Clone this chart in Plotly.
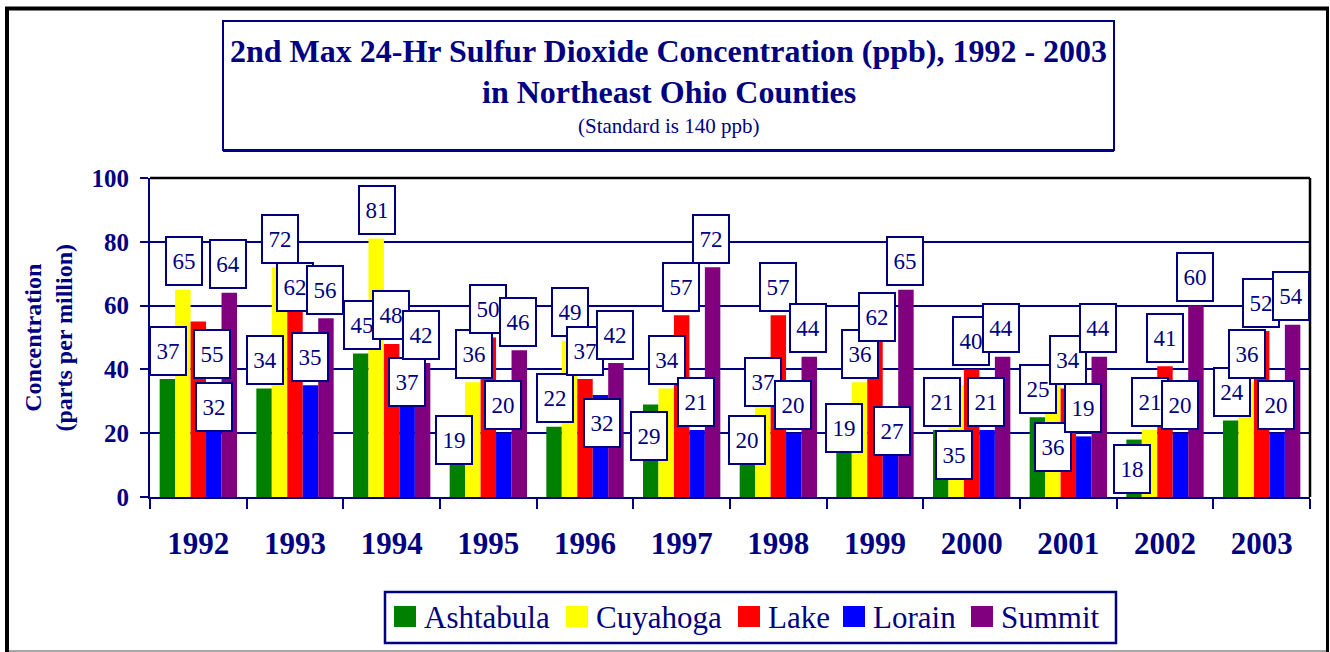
import plotly.graph_objects as go

# ---------------- data ----------------
years = ["1992", "1993", "1994", "1995", "1996", "1997",
         "1998", "1999", "2000", "2001", "2002", "2003"]
series_names = ["Ashtabula", "Cuyahoga", "Lake", "Lorain", "Summit"]
ashtabula = [37, 34, 45, 19, 22, 29, 20, 19, 21, 25, 18, 24]
cuyahoga = [65, 72, 81, 36, 49, 34, 37, 36, 35, 36, 21, 36]
lake = [55, 62, 48, 50, 37, 57, 57, 62, 40, 34, 41, 52]
lorain = [32, 35, 37, 20, 32, 21, 20, 27, 21, 19, 20, 20]
summit = [64, 56, 42, 46, 42, 72, 44, 65, 44, 44, 60, 54]
y_tick_values = [0, 20, 40, 60, 80, 100]

title_line1 = "2nd Max 24-Hr Sulfur Dioxide Concentration (ppb), 1992 - 2003"
title_line2 = "in Northeast Ohio Counties"
title_line3 = "(Standard is 140 ppb)"
y_title = "Concentration<br>(parts per million)"

# ---------------- style ----------------
series_values = [ashtabula, cuyahoga, lake, lorain, summit]
colors = ["#008000", "#FFFF00", "#FF0000", "#0000FF", "#800080"]
NAVY = "#000080"
FONT = "Liberation Serif, Times New Roman, serif"

W_FIG, H_FIG = 1330, 652
L, R, T, B = 150, 1310, 178, 497          # plot area in pixels
BARGAP = 0.2
cat_w = (R - L) / len(years)
bar_w = cat_w * (1 - BARGAP) / len(series_names)


def px(x):
    return (x - L) / (R - L)


def py(y):
    return (B - y) / (B - T)


# label nudges (pixels): default box centre sits above bar top; some moved
default_dx = [1, 0.8, -0.3, -0.8, -1.3]
label_nudge = {
    (2, 0): (14, 61), (3, 0): (0, 40),
    (2, 1): (0, 16),
    (3, 2): (0, 31),
    (0, 3): (-3, 32),
    (3, 4): (2, 56),
    (0, 5): (-2, 60),
    (0, 6): (0, 35), (1, 6): (0, 31),
    (0, 7): (0, 20), (2, 7): (2, 46), (3, 7): (2, 49),
    (1, 8): (-2, 98),
    (1, 9): (0, 93),
    (0, 10): (-2, 58),
}

fig = go.Figure()
for name, vals, col in zip(series_names, series_values, colors):
    fig.add_trace(go.Bar(name=name, x=years, y=vals,
                         marker=dict(color=col, line=dict(width=0)),
                         showlegend=False, hoverinfo="skip"))

annotations = []
for i, yr in enumerate(years):
    for j, vals in enumerate(series_values):
        dx, down = label_nudge.get((j, i), (default_dx[j], 0))
        annotations.append(dict(
            x=i, y=vals[i], xref="x", yref="y",
            text=str(vals[i]), showarrow=False,
            xanchor="center", yanchor="middle",
            xshift=(j - 2) * bar_w + dx, yshift=28.4 - down,
            font=dict(family=FONT, size=23, color=NAVY),
            bgcolor="white", bordercolor=NAVY, borderwidth=2, borderpad=0,
            width=34, height=46))

# title texts
annotations += [
    dict(x=px(668.5), y=py(51), xref="paper", yref="paper", text=title_line1,
         showarrow=False, xanchor="center", yanchor="middle",
         font=dict(family=FONT, size=32, color=NAVY, weight="bold")),
    dict(x=px(668.5), y=py(92), xref="paper", yref="paper", text=title_line2,
         showarrow=False, xanchor="center", yanchor="middle",
         font=dict(family=FONT, size=32, color=NAVY, weight="bold")),
    dict(x=px(668.5), y=py(126), xref="paper", yref="paper", text=title_line3,
         showarrow=False, xanchor="center", yanchor="middle",
         font=dict(family=FONT, size=21, color=NAVY)),
    dict(x=px(48), y=0.5, xref="paper", yref="paper", text=y_title,
         showarrow=False, xanchor="center", yanchor="middle", textangle=-90,
         font=dict(family=FONT, size=24, color=NAVY, weight="bold")),
]

# manual legend
legend_item_x = [394, 566, 738, 843, 971]
shapes = []
for name, col, lx in zip(series_names, colors, legend_item_x):
    shapes.append(dict(type="rect", xref="paper", yref="paper",
                       x0=px(lx), x1=px(lx + 22), y0=py(606), y1=py(627),
                       fillcolor=col, line=dict(width=0)))
    annotations.append(dict(x=px(lx + 28), y=py(617), xref="paper", yref="paper",
                            text=name, showarrow=False, xanchor="left",
                            yanchor="middle",
                            font=dict(family=FONT, size=31, color=NAVY)))
shapes.append(dict(type="rect", xref="paper", yref="paper",
                   x0=px(385), x1=px(1116), y0=py(643), y1=py(592),
                   line=dict(color=NAVY, width=2.5), fillcolor="rgba(0,0,0,0)"))

# title box
shapes.append(dict(type="rect", xref="paper", yref="paper",
                   x0=px(223), x1=px(1114), y0=py(150), y1=py(21),
                   line=dict(color=NAVY, width=2), fillcolor="rgba(0,0,0,0)"))
shapes.append(dict(type="line", xref="paper", yref="paper",
                   x0=px(223), x1=px(1114), y0=py(150.5), y1=py(150.5),
                   line=dict(color=NAVY, width=3)))

# plot-area black top / right border
shapes.append(dict(type="line", xref="paper", yref="paper",
                   x0=px(L), x1=px(R), y0=1, y1=1,
                   line=dict(color="black", width=2.5)))
shapes.append(dict(type="line", xref="paper", yref="paper",
                   x0=1, x1=1, y0=1, y1=0,
                   line=dict(color="black", width=2.5)))

# outer chart frame
shapes += [
    dict(type="line", xref="paper", yref="paper", x0=px(7), x1=px(7),
         y0=py(8.5), y1=py(652), line=dict(color="black", width=4)),
    dict(type="line", xref="paper", yref="paper", x0=px(5), x1=px(1329),
         y0=py(8.5), y1=py(8.5), line=dict(color="black", width=4)),
    dict(type="line", xref="paper", yref="paper", x0=px(1327.5), x1=px(1327.5),
         y0=py(8.5), y1=py(652), line=dict(color="black", width=3)),
    dict(type="line", xref="paper", yref="paper", x0=px(9), x1=px(1326),
         y0=py(651), y1=py(651), line=dict(color="#888888", width=1.5)),
]

fig.update_layout(
    width=W_FIG, height=H_FIG,
    margin=dict(l=L, r=W_FIG - R, t=T, b=H_FIG - B, pad=0),
    paper_bgcolor="white", plot_bgcolor="white",
    barmode="group", bargap=BARGAP, bargroupgap=0,
    showlegend=False,
    annotations=annotations, shapes=shapes,
    xaxis=dict(type="category", range=[-0.5, len(years) - 0.5],
               showline=True, linecolor=NAVY, linewidth=2,
               ticks="outside", ticklen=10, tickwidth=2, tickcolor=NAVY,
               tickson="boundaries", showgrid=False, zeroline=False,
               ticklabelstandoff=18, tickangle=0,
               tickfont=dict(family=FONT, size=31, color=NAVY, weight="bold")),
    yaxis=dict(range=[0, 100], tickvals=y_tick_values, showline=True,
               linecolor=NAVY, linewidth=2, ticks="outside", ticklen=8,
               tickwidth=2, tickcolor=NAVY, showgrid=True, gridcolor=NAVY,
               gridwidth=2, zeroline=False, ticklabelstandoff=6,
               tickfont=dict(family=FONT, size=25, color=NAVY, weight="bold")),
)

fig.write_html("out.html",
               config={"displayModeBar": False},
               post_script="document.body.style.margin='0';"
                           "document.body.style.overflow='hidden';")
